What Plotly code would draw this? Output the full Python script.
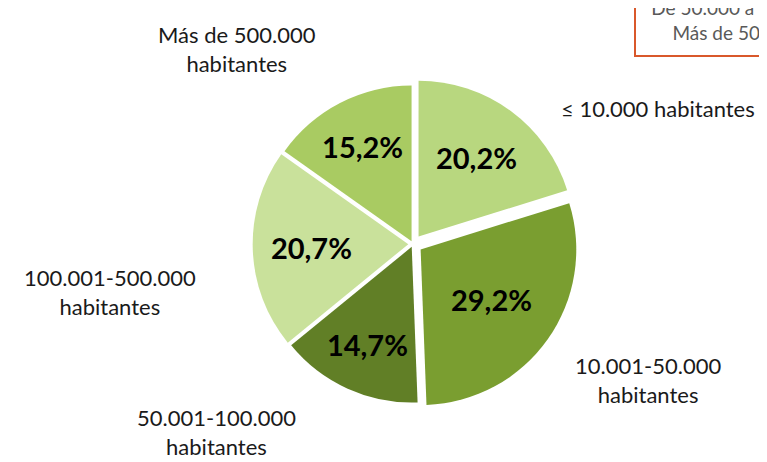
import plotly.graph_objects as go

categories = ["≤ 10.000 habitantes", "10.001-50.000 habitantes", "50.001-100.000 habitantes",
              "100.001-500.000 habitantes", "Más de 500.000 habitantes"]
label_text = ["≤ 10.000 habitantes", "10.001-50.000<br>habitantes", "50.001-100.000<br>habitantes",
              "100.001-500.000<br>habitantes", "Más de 500.000<br>habitantes"]
values = [20.2, 29.2, 14.7, 20.7, 15.2]
pct_text = ["20,2%", "29,2%", "14,7%", "20,7%", "15,2%"]
colors = ["#b8d77f", "#7a9e30", "#617f26", "#c9e19b", "#a9cb62"]
pulls = [0.06, 0.06, 0.02, 0.03, 0.02]

legend_lines = ["De 50.000 a 500.000", "Más de 500.000"]

W, H = 767, 462
cx, cy, d = 405, 236, 330

fig = go.Figure()
fig.add_trace(go.Pie(
    labels=categories, values=values, text=pct_text, texttemplate="<b>%{text}</b>",
    textposition="inside", insidetextorientation="horizontal",
    textfont=dict(family="Lato", size=29, color="black"),
    marker=dict(colors=colors, line=dict(color="white", width=0)),
    sort=False, direction="clockwise", rotation=0, pull=pulls,
    domain=dict(x=[(cx - d / 2) / W, (cx + d / 2) / W], y=[1 - (cy + d / 2) / H, 1 - (cy - d / 2) / H]),
    showlegend=False, hoverinfo="label+percent",
))

label_pos = [(650, 100), (640, 372), (208, 424), (102, 284), (229, 41)]
for txt, (x, y) in zip(label_text, label_pos):
    fig.add_annotation(x=x / W, y=1 - y / H, xref="paper", yref="paper", text=txt,
                       showarrow=False, xanchor="center", yanchor="middle", align="center",
                       font=dict(family="Lato", size=22, color="#1a1a1a"))

fig.add_annotation(x=626 / W, y=1 - 49 / H, xref="paper", yref="paper",
                   text="<br>".join(legend_lines), showarrow=False, xanchor="left", yanchor="bottom",
                   align="center", width=187, font=dict(family="Lato", size=19, color="#595959"),
                   bordercolor="#d9582b", borderwidth=2, borderpad=11, bgcolor="white")

fig.update_layout(width=W, height=H, margin=dict(l=0, r=0, t=0, b=0),
                  paper_bgcolor="white", plot_bgcolor="white")
fig.write_html("out.html")
